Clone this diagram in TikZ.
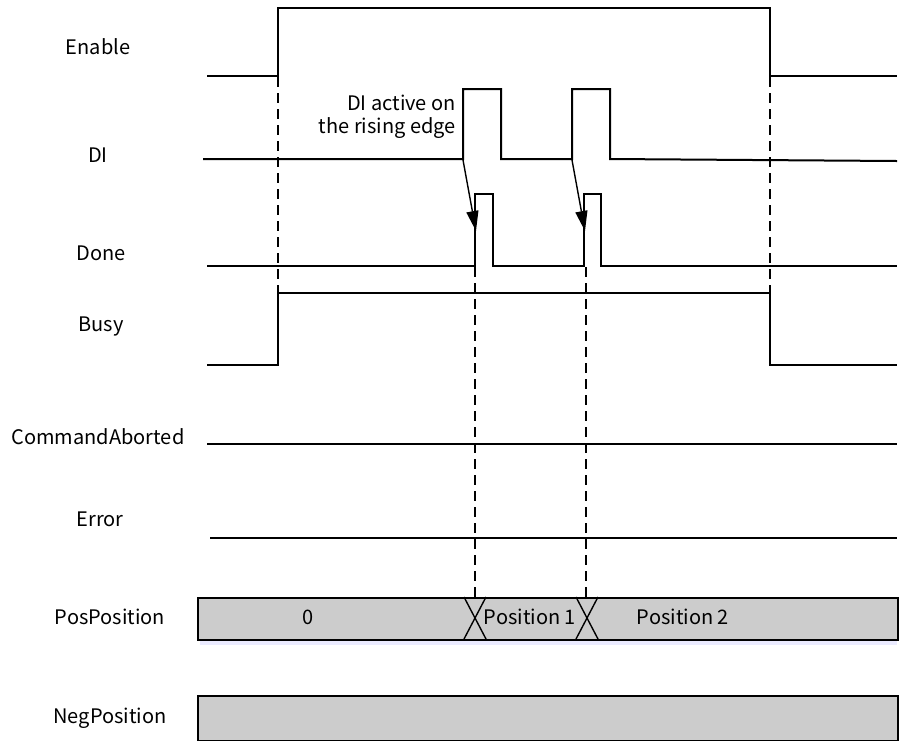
\documentclass[tikz,border=0pt]{standalone}
\usepackage{fontspec}
\setmainfont{Noto Sans CJK SC}
\usetikzlibrary{arrows.meta}
\begin{document}
\begin{tikzpicture}[x=1pt,y=-1pt,
  sig/.style={line width=2pt,line join=miter},
  lbl/.style={font=\fontsize{20}{23}\selectfont,inner sep=0pt},
  guide/.style={line width=1.3pt,dash pattern=on 10pt off 6pt},
  busbox/.style={draw,line width=1.8pt,fill=black!20},
  trig/.style={line width=1.4pt,-{Triangle[length=20pt,width=12pt]}}]
\useasboundingbox (0,0) rectangle (899,740);
% labels
\node[lbl] (lEnable) at (98,47) {Enable};
\node[lbl] (lDI) at (98,155) {DI};
\node[lbl] (lDone) at (101,253) {Done};
\node[lbl] (lBusy) at (101,326) {Busy};
\node[lbl] (lCA) at (98,437) {CommandAborted};
\node[lbl] (lErr) at (100,519) {Error};
\node[lbl] (lPos) at (110,617) {PosPosition};
\node[lbl] (lNeg) at (110,718) {NegPosition};
\node[lbl,align=right,anchor=east] (note) at (456,117) {DI active on\\the rising edge};
% bus boxes
\fill[blue!8] (200,639) rectangle (897,645);
\node[busbox,minimum width=700pt,minimum height=42pt,anchor=north west,inner sep=0pt] (pos) at (197,597) {};
\node[busbox,minimum width=700pt,minimum height=45pt,anchor=north west,inner sep=0pt] (neg) at (197,695) {};
% crossings
\draw[line width=1.4pt] (464,639) -- (486,597) (464,597) -- (486,639);
\draw[line width=1.4pt] (576,639) -- (598,597) (576,597) -- (598,639);
\node[lbl] (v0) at (308,617) {0};
\node[lbl] (v1) at (530,617) {Position 1};
\node[lbl] (v2) at (683,617) {Position 2};
% waveforms
\draw[sig] (207,76) -- (278,76) -- (278,8) -- (770,8) -- (770,76) -- (897,76);
\draw[sig] (203,159) -- (463,159) -- (463,89) -- (501,89) -- (501,159) -- (572,159) -- (572,89) -- (610,89) -- (610,159) -- (897,161);
\draw[sig] (207,266) -- (475,266) -- (475,194) -- (493,194) -- (493,266) -- (584,266) -- (584,194) -- (601,194) -- (601,266) -- (897,266);
\draw[sig] (207,365) -- (278,365) -- (278,293) -- (770,293) -- (770,365) -- (897,365);
\draw[sig] (207,444) -- (897,444);
\draw[sig] (210,538) -- (897,538);
% named points
\coordinate (diR1) at (463,160);
\coordinate (diR2) at (572,160);
\coordinate (doR1) at (476,231);
\coordinate (doR2) at (585,231);
% guides
\draw[guide] (278,77) -- (278,293);
\draw[guide] (770,77) -- (770,293);
\draw[guide] (475,267) -- (475,597);
\draw[guide] (586,267) -- (586,597);
% trigger arrows
\draw[trig] (diR1) -- (doR1);
\draw[trig] (diR2) -- (doR2);
\end{tikzpicture}
\end{document}
